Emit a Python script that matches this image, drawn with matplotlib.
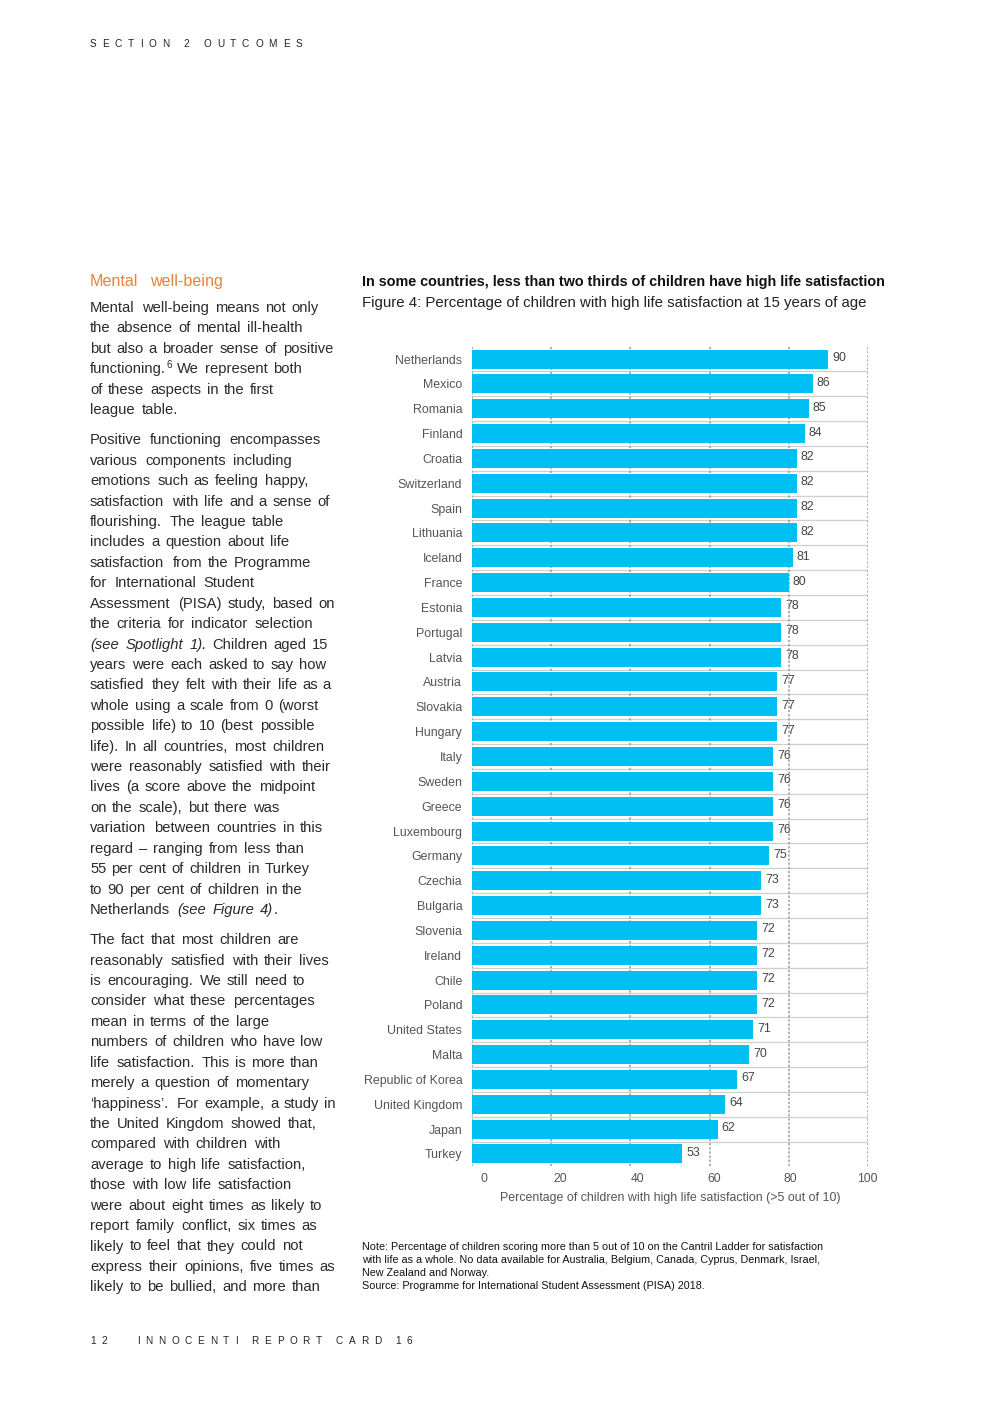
import matplotlib
matplotlib.use('Agg')
import matplotlib.pyplot as plt
from matplotlib.transforms import ScaledTranslation

# ---------------- data ----------------
countries = ["Netherlands", "Mexico", "Romania", "Finland", "Croatia", "Switzerland",
             "Spain", "Lithuania", "Iceland", "France", "Estonia", "Portugal", "Latvia",
             "Austria", "Slovakia", "Hungary", "Italy", "Sweden", "Greece", "Luxembourg",
             "Germany", "Czechia", "Bulgaria", "Slovenia", "Ireland", "Chile", "Poland",
             "United States", "Malta", "Republic of Korea", "United Kingdom", "Japan", "Turkey"]
values = [90, 86, 85, 84, 82, 82, 82, 82, 81, 80, 78, 78, 78, 77, 77, 77, 76, 76, 76, 76,
          75, 73, 73, 72, 72, 72, 72, 71, 70, 67, 64, 62, 53]
x_ticks = [0, 20, 40, 60, 80, 100]
x_tick_labels = ["0", "20", "40", "60", "80", "100"]

title = "In some countries, less than two thirds of children have high life satisfaction"
subtitle = "Figure 4: Percentage of children with high life satisfaction at 15 years of age"
xlabel = "Percentage of children with high life satisfaction (>5 out of 10)"
note_lines = [
    "Note: Percentage of children scoring more than 5 out of 10 on the Cantril Ladder for satisfaction",
    "with life as a whole. No data available for Australia, Belgium, Canada, Cyprus, Denmark, Israel,",
    "New Zealand and Norway.",
    "Source: Programme for International Student Assessment (PISA) 2018.",
]

# body text: list of paragraphs; each line is list of runs (text, style)
N, I, S = 'normal', 'italic', 'sup'
paragraphs = [
    [
        [("Mental well-being means not only", N)],
        [("the absence of mental ill-health", N)],
        [("but also a broader sense of positive", N)],
        [("functioning.", N), ("6", S), (" We represent both", N)],
        [("of these aspects in the first", N)],
        [("league table.", N)],
    ],
    [
        [("Positive functioning encompasses", N)],
        [("various components including", N)],
        [("emotions such as feeling happy,", N)],
        [("satisfaction with life and a sense of", N)],
        [("flourishing. The league table", N)],
        [("includes a question about life", N)],
        [("satisfaction from the Programme", N)],
        [("for International Student", N)],
        [("Assessment (PISA) study, based on", N)],
        [("the criteria for indicator selection", N)],
        [("(see Spotlight 1).", I), (" Children aged 15", N)],
        [("years were each asked to say how", N)],
        [("satisfied they felt with their life as a", N)],
        [("whole using a scale from 0 (worst", N)],
        [("possible life) to 10 (best possible", N)],
        [("life). In all countries, most children", N)],
        [("were reasonably satisfied with their", N)],
        [("lives (a score above the midpoint", N)],
        [("on the scale), but there was", N)],
        [("variation between countries in this", N)],
        [("regard \u2013 ranging from less than", N)],
        [("55 per cent of children in Turkey", N)],
        [("to 90 per cent of children in the", N)],
        [("Netherlands ", N), ("(see Figure 4)", I), (".", N)],
    ],
    [
        [("The fact that most children are", N)],
        [("reasonably satisfied with their lives", N)],
        [("is encouraging. We still need to", N)],
        [("consider what these percentages", N)],
        [("mean in terms of the large", N)],
        [("numbers of children who have low", N)],
        [("life satisfaction. This is more than", N)],
        [("merely a question of momentary", N)],
        [("\u2018happiness\u2019. For example, a study in", N)],
        [("the United Kingdom showed that,", N)],
        [("compared with children with", N)],
        [("average to high life satisfaction,", N)],
        [("those with low life satisfaction", N)],
        [("were about eight times as likely to", N)],
        [("report family conflict, six times as", N)],
        [("likely to feel that they could not", N)],
        [("express their opinions, five times as", N)],
        [("likely to be bullied, and more than", N)],
    ],
]

# ---------------- figure ----------------
W, H = 992, 1403
FONT = 'Liberation Sans'
plt.rcParams['font.family'] = [FONT, 'DejaVu Sans']
fig = plt.figure(figsize=(W / 100, H / 100), dpi=100)
fig.patch.set_facecolor('white')
R = fig.canvas.get_renderer()


def fx(px):
    return px / W


def fy(py):
    return 1 - py / H


_cache = {}


def text_w(s, size, weight='normal', style='normal'):
    key = (s, size, weight, style)
    if key in _cache:
        return _cache[key]
    a = fig.text(0, 0, "|" + s + "|", fontsize=size, weight=weight, style=style)
    b = fig.text(0, 0, "||", fontsize=size, weight=weight, style=style)
    w = a.get_window_extent(R).width - b.get_window_extent(R).width
    a.remove(); b.remove()
    _cache[key] = w
    return w


def fit_size(s, target, weight='normal', base=10):
    return base * target / text_w(s, base, weight)


def draw_tracked(x, y, s, size, track, color):
    """letter-by-letter tracking (for widely spaced caps)"""
    cx = x
    for c in s:
        w = text_w(c, size)
        if c != ' ':
            fig.text(fx(cx), fy(y), c, fontsize=size, color=color, va='baseline', ha='left')
        cx += w + track
    return cx


def draw_words(x, y, s, size, track, color, style='normal', flush_left=False):
    """each word drawn whole, centred where it would sit with letter tracking.
    Returns (tracked end, drawn end)."""
    cx = x
    end = x
    for i, word in enumerate(s.split(' ')):
        if i > 0:
            cx += text_w(' ', size, style=style) + track
        if word:
            w = text_w(word, size, style=style)
            wt = w + track * (len(word) - 1)
            if i == 0 and flush_left:
                xd = cx
            elif i == 0:
                xd = cx
            else:
                xd = cx + (wt - w) / 2
            fig.text(fx(xd), fy(y), word, fontsize=size, color=color, va='baseline',
                     ha='left', style=style)
            end = xd + w
            cx += wt + track
    return cx, end


def track_for(s, size, target_w, style='normal'):
    return (target_w - sum(text_w(c, size, style=style) for c in s)) / (len(s) - 1)


# header / footer
hsize = 7.2
hcol = '#222222'
draw_tracked(90, 47, "SECTION 2 OUTCOMES", hsize,
             track_for("SECTION 2 OUTCOMES", hsize, 212), hcol)
draw_tracked(90, 1344, "12", hsize, track_for("12", hsize, 17), hcol)
draw_tracked(137, 1344, "INNOCENTI REPORT CARD 16", hsize,
             track_for("INNOCENTI REPORT CARD 16", hsize, 275), hcol)

# heading
hs = 11.6
draw_words(90, 286, "Mental well-being", hs,
           track_for("Mental well-being", hs, 136), '#e8823c', flush_left=True)

# body text
body_size = 10.6
body_track = track_for("Mental well-being means not only", body_size, 229)
body_color = '#2a2a2a'
y = 312
for p in paragraphs:
    for line in p:
        cx = 90
        for j, (txt, st) in enumerate(line):
            nxt = line[j + 1][0] if j + 1 < len(line) else ' '
            if st == S:
                ss = body_size * 0.68
                fig.text(fx(cx + 0.5), fy(y - 5), txt, fontsize=ss, color=body_color,
                         va='baseline')
                cx += text_w(txt, ss) + 0.5
            else:
                tr_end, dr_end = draw_words(cx, y, txt, body_size, body_track, body_color,
                                            style=st, flush_left=(j == 0))
                cx = tr_end if (txt.endswith(' ') or nxt.startswith(' ')) else dr_end
        y += 20.42
    y += 9.8

# chart title / subtitle
fig.text(fx(362), fy(286), title, fontsize=fit_size(title, 522, 'bold'), weight='bold',
         color='#111111', va='baseline')
fig.text(fx(362), fy(307), subtitle, fontsize=fit_size(subtitle, 506), color='#222222',
         va='baseline')

# notes
nsize = fit_size(note_lines[0], 457)
for i, ln in enumerate(note_lines):
    fig.text(fx(362), fy(1250.5 + i * 12.9), ln, fontsize=nsize, color='#111111', va='baseline')

# ---------------- chart ----------------
ax_left, ax_right = 472, 868
ax_top, ax_bot = 346.6, 1166.4
ax = fig.add_axes([fx(ax_left), fy(ax_bot), (ax_right - ax_left) / W, (ax_bot - ax_top) / H])
ax.set_xlim(0, 100)
n = len(countries)
ax.set_ylim(n - 0.5, -0.5)
ypos = list(range(n))

bar_color = '#00bff2'
ax.barh(ypos, values, height=0.765, color=bar_color, zorder=2)

# vertical dotted grid (behind bars, above value labels)
for xt in x_ticks:
    ax.axvline(xt, color='#9a9a9a', lw=1.1, ls=(0, (1.5, 1.2)), zorder=1.5)
# row separators
for k in range(n - 1):
    ax.axhline(k + 0.5, color='#cfcfcf', lw=0.9, zorder=1.2)

lab_size = 8.9
for yy, v in zip(ypos, values):
    ax.annotate(str(v), (v, yy), xytext=(3, 0.7), textcoords='offset points', ha='left',
                va='center', fontsize=lab_size, color='#444444', zorder=1)

ax.set_yticks(ypos)
ax.set_yticklabels(countries, fontsize=lab_size, color='#555555')
ax.set_xticks(x_ticks)
ax.set_xticklabels(x_tick_labels, fontsize=8.7, color='#555555')
ax.tick_params(axis='both', length=0)
ax.tick_params(axis='y', pad=7)
ax.tick_params(axis='x', pad=5)
for i, tl in enumerate(ax.get_xticklabels()):
    off = (12 - 2.6 * i) / 100
    tl.set_transform(tl.get_transform() + ScaledTranslation(off, 0, fig.dpi_scale_trans))
for s in ax.spines.values():
    s.set_visible(False)
ax.set_facecolor('none')
ax.set_xlabel(xlabel, fontsize=fit_size(xlabel, 341), color='#555555', labelpad=5)

fig.savefig('out.png', dpi=100, facecolor='white')
